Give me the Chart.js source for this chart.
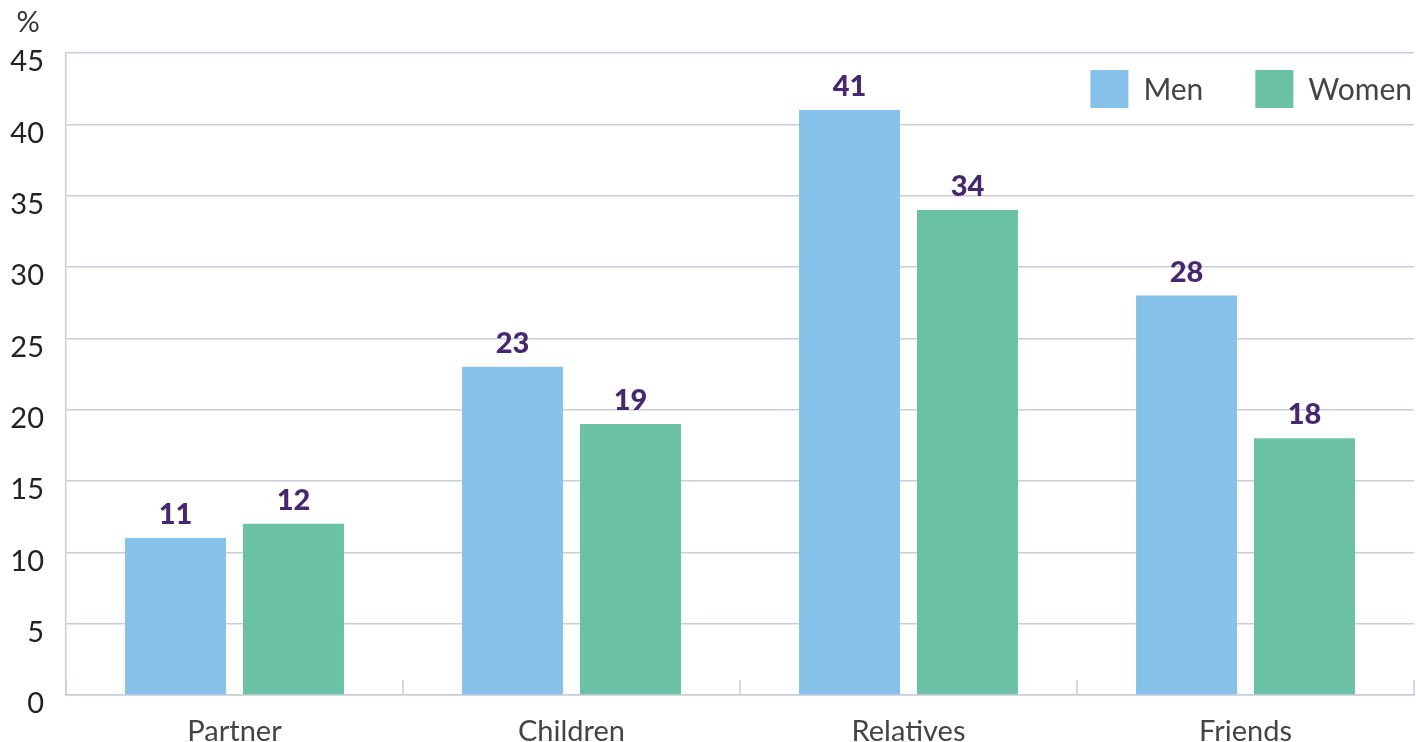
<!DOCTYPE html>
<html>
<head>
<meta charset="utf-8">
<script src="https://cdn.jsdelivr.net/npm/chart.js@4.4.1/dist/chart.umd.min.js"></script>
<style>
  html, body { margin: 0; padding: 0; background: #fff; }
  #wrap { width: 1416px; height: 742px; position: relative; }
</style>
</head>
<body>
<div id="wrap"><canvas id="chart"></canvas></div>
<script>
const categories = ["Partner", "Children", "Relatives", "Friends"];
const seriesNames = ["Men", "Women"];
const menValues = [11, 23, 41, 28];
const womenValues = [12, 19, 34, 18];
const yTicks = [0, 5, 10, 15, 20, 25, 30, 35, 40, 45];

const colors = ["#86c2e9", "#6bc1a3"];
const gridColor = "#c9ccdb";
const fontFamily = "Lato, 'Noto Sans', sans-serif";

// value labels above each bar
const valueLabels = {
  id: "valueLabels",
  afterDatasetsDraw(chart) {
    const ctx = chart.ctx;
    ctx.save();
    ctx.font = "900 29px " + fontFamily;
    ctx.fillStyle = "#46286e";
    ctx.textAlign = "center";
    ctx.textBaseline = "alphabetic";
    chart.data.datasets.forEach((ds, di) => {
      chart.getDatasetMeta(di).data.forEach((bar, i) => {
        ctx.fillText(String(ds.data[i]), bar.x, bar.y - 14);
      });
    });
    ctx.restore();
  },
};

// short inward ticks between categories, the "%" unit and the legend
const extras = {
  id: "extras",
  afterDraw(chart) {
    const ctx = chart.ctx;
    const x = chart.scales.x;
    const area = chart.chartArea;
    ctx.save();
    ctx.strokeStyle = gridColor;
    ctx.lineWidth = 1.5;
    const marks = [area.left, area.right];
    for (let i = 0; i < categories.length - 1; i++) {
      marks.push((x.getPixelForValue(i) + x.getPixelForValue(i + 1)) / 2);
    }
    marks.forEach((px) => {
      ctx.beginPath();
      ctx.moveTo(px, area.bottom);
      ctx.lineTo(px, area.bottom - 15);
      ctx.stroke();
    });

    ctx.fillStyle = "#333";
    ctx.font = "400 29px " + fontFamily;
    ctx.textAlign = "center";
    ctx.textBaseline = "middle";
    ctx.fillText("%", 28, 23);

    // legend, right aligned inside the plot
    const box = 38;
    ctx.font = "400 30px " + fontFamily;
    ctx.textAlign = "left";
    const right = area.right - 2;
    const top = area.top + 17;
    const items = chart.data.datasets.map((ds) => ({
      label: ds.label,
      color: ds.backgroundColor,
      w: box + 15 + ctx.measureText(ds.label).width,
    }));
    const total = items.reduce((s, it) => s + it.w, 0) + 52 * (items.length - 1);
    let cx = right - total;
    items.forEach((it) => {
      ctx.fillStyle = it.color;
      ctx.fillRect(cx, top, box, box);
      ctx.fillStyle = "#444";
      ctx.fillText(it.label, cx + box + 15, top + box / 2 + 1);
      cx += it.w + 52;
    });
    ctx.restore();
  },
};

new Chart(document.getElementById("chart"), {
  type: "bar",
  data: {
    labels: categories,
    datasets: [
      { label: seriesNames[0], data: menValues, backgroundColor: colors[0] },
      { label: seriesNames[1], data: womenValues, backgroundColor: colors[1] },
    ],
  },
  options: {
    responsive: true,
    maintainAspectRatio: false,
    animation: false,
    categoryPercentage: 0.7,
    barPercentage: 0.856,
    layout: { padding: { top: 53, right: 2, left: 0, bottom: 0 } },
    plugins: {
      legend: { display: false },
      tooltip: { enabled: false },
    },
    scales: {
      x: {
        afterFit(scale) { scale.height = 47; },
        grid: { display: false },
        border: { display: true, color: gridColor, width: 1.5 },
        ticks: {
          color: "#444",
          padding: 11,
          font: { family: fontFamily, size: 29 },
        },
      },
      y: {
        min: 0,
        max: 45,
        afterFit(scale) { scale.width = 66; },
        afterBuildTicks(scale) { scale.ticks = yTicks.map((v) => ({ value: v })); },
        grid: { color: gridColor, lineWidth: 1.5, drawTicks: false },
        border: { display: true, color: gridColor, width: 1.5 },
        ticks: {
          color: "#222",
          padding: 22,
          labelOffset: 9,
          font: { family: fontFamily, size: 29 },
        },
      },
    },
  },
  plugins: [valueLabels, extras],
});
</script>
</body>
</html>
